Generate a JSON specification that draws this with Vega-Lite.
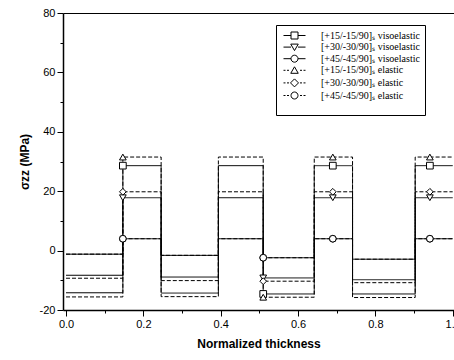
{
  "$schema": "https://vega.github.io/schema/vega-lite/v6.json",
  "width": 391,
  "height": 297,
  "autosize": {"type": "none"},
  "padding": {"left": 63, "top": 13, "right": 0, "bottom": 50},
  "background": "white",
  "config": {
    "view": {"stroke": null},
    "axis": {
      "labelFont": "Liberation Sans",
      "titleFont": "Liberation Sans",
      "labelColor": "black",
      "titleColor": "black",
      "tickColor": "black",
      "domainColor": "black",
      "grid": false
    }
  },
  "datasets": {
    "lines": [
      {"s": "[+15/-15/90]ₛ visoelastic", "x": 0, "y": -14.2},
      {"s": "[+15/-15/90]ₛ visoelastic", "x": 0.147, "y": 28.6},
      {"s": "[+15/-15/90]ₛ visoelastic", "x": 0.246, "y": -14.3},
      {"s": "[+15/-15/90]ₛ visoelastic", "x": 0.394, "y": 28.6},
      {"s": "[+15/-15/90]ₛ visoelastic", "x": 0.51, "y": -14.6},
      {"s": "[+15/-15/90]ₛ visoelastic", "x": 0.642, "y": 28.6},
      {"s": "[+15/-15/90]ₛ visoelastic", "x": 0.741, "y": -14.6},
      {"s": "[+15/-15/90]ₛ visoelastic", "x": 0.903, "y": 28.6},
      {"s": "[+15/-15/90]ₛ visoelastic", "x": 1.0, "y": 28.6},
      {"s": "[+30/-30/90]ₛ visoelastic", "x": 0, "y": -8.3},
      {"s": "[+30/-30/90]ₛ visoelastic", "x": 0.147, "y": 17.8},
      {"s": "[+30/-30/90]ₛ visoelastic", "x": 0.246, "y": -8.9},
      {"s": "[+30/-30/90]ₛ visoelastic", "x": 0.394, "y": 17.8},
      {"s": "[+30/-30/90]ₛ visoelastic", "x": 0.51, "y": -9.2},
      {"s": "[+30/-30/90]ₛ visoelastic", "x": 0.642, "y": 17.8},
      {"s": "[+30/-30/90]ₛ visoelastic", "x": 0.741, "y": -9.8},
      {"s": "[+30/-30/90]ₛ visoelastic", "x": 0.903, "y": 17.8},
      {"s": "[+30/-30/90]ₛ visoelastic", "x": 1.0, "y": 17.8},
      {"s": "[+45/-45/90]ₛ visoelastic", "x": 0, "y": -1.2},
      {"s": "[+45/-45/90]ₛ visoelastic", "x": 0.147, "y": 4.0},
      {"s": "[+45/-45/90]ₛ visoelastic", "x": 0.246, "y": -1.6},
      {"s": "[+45/-45/90]ₛ visoelastic", "x": 0.394, "y": 4.0},
      {"s": "[+45/-45/90]ₛ visoelastic", "x": 0.51, "y": -2.4},
      {"s": "[+45/-45/90]ₛ visoelastic", "x": 0.642, "y": 4.0},
      {"s": "[+45/-45/90]ₛ visoelastic", "x": 0.741, "y": -2.9},
      {"s": "[+45/-45/90]ₛ visoelastic", "x": 0.903, "y": 4.0},
      {"s": "[+45/-45/90]ₛ visoelastic", "x": 1.0, "y": 4.0},
      {"s": "[+15/-15/90]ₛ elastic", "x": 0, "y": -15.6},
      {"s": "[+15/-15/90]ₛ elastic", "x": 0.147, "y": 31.5},
      {"s": "[+15/-15/90]ₛ elastic", "x": 0.246, "y": -15.5},
      {"s": "[+15/-15/90]ₛ elastic", "x": 0.394, "y": 31.5},
      {"s": "[+15/-15/90]ₛ elastic", "x": 0.51, "y": -15.7},
      {"s": "[+15/-15/90]ₛ elastic", "x": 0.642, "y": 31.5},
      {"s": "[+15/-15/90]ₛ elastic", "x": 0.741, "y": -15.8},
      {"s": "[+15/-15/90]ₛ elastic", "x": 0.903, "y": 31.5},
      {"s": "[+15/-15/90]ₛ elastic", "x": 1.0, "y": 31.5},
      {"s": "[+30/-30/90]ₛ elastic", "x": 0, "y": -9.3},
      {"s": "[+30/-30/90]ₛ elastic", "x": 0.147, "y": 19.8},
      {"s": "[+30/-30/90]ₛ elastic", "x": 0.246, "y": -10.1},
      {"s": "[+30/-30/90]ₛ elastic", "x": 0.394, "y": 19.8},
      {"s": "[+30/-30/90]ₛ elastic", "x": 0.51, "y": -10.3},
      {"s": "[+30/-30/90]ₛ elastic", "x": 0.642, "y": 19.8},
      {"s": "[+30/-30/90]ₛ elastic", "x": 0.741, "y": -10.8},
      {"s": "[+30/-30/90]ₛ elastic", "x": 0.903, "y": 19.8},
      {"s": "[+30/-30/90]ₛ elastic", "x": 1.0, "y": 19.8},
      {"s": "[+45/-45/90]ₛ elastic", "x": 0, "y": -1.2},
      {"s": "[+45/-45/90]ₛ elastic", "x": 0.147, "y": 4.0},
      {"s": "[+45/-45/90]ₛ elastic", "x": 0.246, "y": -1.6},
      {"s": "[+45/-45/90]ₛ elastic", "x": 0.394, "y": 4.0},
      {"s": "[+45/-45/90]ₛ elastic", "x": 0.51, "y": -2.4},
      {"s": "[+45/-45/90]ₛ elastic", "x": 0.642, "y": 4.0},
      {"s": "[+45/-45/90]ₛ elastic", "x": 0.741, "y": -2.9},
      {"s": "[+45/-45/90]ₛ elastic", "x": 0.903, "y": 4.0},
      {"s": "[+45/-45/90]ₛ elastic", "x": 1.0, "y": 4.0}
    ],
    "markers": [
      {"s": "[+15/-15/90]ₛ visoelastic", "x": 0.147, "y": 28.6},
      {"s": "[+30/-30/90]ₛ visoelastic", "x": 0.147, "y": 17.8},
      {"s": "[+45/-45/90]ₛ visoelastic", "x": 0.147, "y": 4.0},
      {"s": "[+15/-15/90]ₛ elastic", "x": 0.147, "y": 31.5},
      {"s": "[+30/-30/90]ₛ elastic", "x": 0.147, "y": 19.8},
      {"s": "[+45/-45/90]ₛ elastic", "x": 0.147, "y": 4.0},
      {"s": "[+15/-15/90]ₛ visoelastic", "x": 0.51, "y": -14.6},
      {"s": "[+30/-30/90]ₛ visoelastic", "x": 0.51, "y": -9.2},
      {"s": "[+45/-45/90]ₛ visoelastic", "x": 0.51, "y": -2.4},
      {"s": "[+15/-15/90]ₛ elastic", "x": 0.51, "y": -15.7},
      {"s": "[+30/-30/90]ₛ elastic", "x": 0.51, "y": -10.3},
      {"s": "[+45/-45/90]ₛ elastic", "x": 0.51, "y": -2.4},
      {"s": "[+15/-15/90]ₛ visoelastic", "x": 0.69, "y": 28.6},
      {"s": "[+30/-30/90]ₛ visoelastic", "x": 0.69, "y": 17.8},
      {"s": "[+45/-45/90]ₛ visoelastic", "x": 0.69, "y": 4.0},
      {"s": "[+15/-15/90]ₛ elastic", "x": 0.69, "y": 31.5},
      {"s": "[+30/-30/90]ₛ elastic", "x": 0.69, "y": 19.8},
      {"s": "[+45/-45/90]ₛ elastic", "x": 0.69, "y": 4.0},
      {"s": "[+15/-15/90]ₛ visoelastic", "x": 0.941, "y": 28.6},
      {"s": "[+30/-30/90]ₛ visoelastic", "x": 0.941, "y": 17.8},
      {"s": "[+45/-45/90]ₛ visoelastic", "x": 0.941, "y": 4.0},
      {"s": "[+15/-15/90]ₛ elastic", "x": 0.941, "y": 31.5},
      {"s": "[+30/-30/90]ₛ elastic", "x": 0.941, "y": 19.8},
      {"s": "[+45/-45/90]ₛ elastic", "x": 0.941, "y": 4.0}
    ]
  },
  "layer": [
    {
      "data": {"name": "lines"},
      "mark": {"type": "line", "interpolate": "step-after", "strokeWidth": 1, "color": "black"},
      "encoding": {
        "x": {
          "field": "x", "type": "quantitative",
          "scale": {"domain": [-0.0078, 1.0034], "nice": false, "zero": false},
          "axis": {
            "orient": "bottom",
            "values": [0, 0.1, 0.2, 0.3, 0.4, 0.5, 0.6, 0.7, 0.8, 0.9, 1.0],
            "labelExpr": "round(datum.value*10)%2==0 ? format(datum.value,'.1f') : ''",
            "tickSize": {"condition": {"test": "round(datum.value*10)%2==0", "value": 6}, "value": 3},
            "labelOverlap": false,
            "labelFlush": false,
            "labelFontSize": 11,
            "labelPadding": 2,
            "domainWidth": 1.5,
            "tickWidth": 1,
            "title": "Normalized thickness",
            "titleFontSize": 12,
            "titleFontWeight": "bold",
            "titlePadding": 9
          }
        },
        "y": {
          "field": "y", "type": "quantitative",
          "scale": {"domain": [-20, 80], "nice": false, "zero": false},
          "axis": {
            "orient": "left",
            "values": [-20, -10, 0, 10, 20, 30, 40, 50, 60, 70, 80],
            "labelExpr": "datum.value % 20 == 0 ? '' + datum.value : ''",
            "tickSize": {"condition": {"test": "datum.value % 20 == 0", "value": 6}, "value": 3},
            "labelOverlap": false,
            "labelFlush": false,
            "labelFontSize": 11,
            "labelPadding": 2,
            "domainWidth": 1.5,
            "tickWidth": 1,
            "title": "σzz (MPa)",
            "titleFontSize": 12,
            "titleFontWeight": "bold",
            "titlePadding": 8
          }
        },
        "strokeDash": {
          "field": "s", "type": "nominal",
          "scale": {
            "domain": ["[+15/-15/90]ₛ visoelastic", "[+30/-30/90]ₛ visoelastic", "[+45/-45/90]ₛ visoelastic", "[+15/-15/90]ₛ elastic", "[+30/-30/90]ₛ elastic", "[+45/-45/90]ₛ elastic"],
            "range": [[1, 0], [1, 0], [1, 0], [4, 2], [4, 2], [4, 2]]
          },
          "legend": null
        }
      }
    },
    {
      "data": {"name": "markers"},
      "mark": {"type": "point", "filled": true, "fill": "white", "stroke": "black", "strokeWidth": 1, "size": 45, "opacity": 1},
      "encoding": {
        "x": {"field": "x", "type": "quantitative", "axis": null},
        "y": {"field": "y", "type": "quantitative", "axis": null},
        "shape": {
          "field": "s", "type": "nominal",
          "scale": {
            "domain": ["[+15/-15/90]ₛ visoelastic", "[+30/-30/90]ₛ visoelastic", "[+45/-45/90]ₛ visoelastic", "[+15/-15/90]ₛ elastic", "[+30/-30/90]ₛ elastic", "[+45/-45/90]ₛ elastic"],
            "range": ["square", "triangle-down", "circle", "triangle-up", "diamond", "circle"]
          },
          "legend": null
        }
      }
    },
    {
      "data": {"name": "markers"},
      "transform": [{"filter": "false"}],
      "mark": {"type": "point", "filled": false, "color": "black", "strokeWidth": 1},
      "encoding": {
        "x": {
          "field": "x", "type": "quantitative",
          "axis": {"orient": "top", "ticks": false, "labels": false, "domain": true, "domainWidth": 1, "title": null}
        },
        "y": {"field": "y", "type": "quantitative", "axis": null},
        "shape": {
          "field": "s", "type": "nominal",
          "scale": {
            "domain": ["[+15/-15/90]ₛ visoelastic", "[+30/-30/90]ₛ visoelastic", "[+45/-45/90]ₛ visoelastic", "[+15/-15/90]ₛ elastic", "[+30/-30/90]ₛ elastic", "[+45/-45/90]ₛ elastic"],
            "range": [
              "M-0.6,0H0.9M2.3,0H3.8M0.9,-0.7H2.3V0.7H0.9Z",
              "M-0.6,0H0.9M2.3,0H3.8M0.85,-0.6H2.35L1.6,0.7Z",
              "M-0.6,0H0.9M2.3,0H3.8M0.9,0A0.7,0.7 0 1,0 2.3,0A0.7,0.7 0 1,0 0.9,0Z",
              "M-0.6,0H-0.2M0.1,0H0.5M2.7,0H3.1M3.4,0H3.8M0.85,0.6H2.35L1.6,-0.7Z",
              "M-0.6,0H-0.2M0.1,0H0.5M2.7,0H3.1M3.4,0H3.8M1.6,-0.8L2.4,0L1.6,0.8L0.8,0Z",
              "M-0.6,0H-0.2M0.1,0H0.5M2.7,0H3.1M3.4,0H3.8M0.9,0A0.7,0.7 0 1,0 2.3,0A0.7,0.7 0 1,0 0.9,0Z"
            ]
          },
          "legend": {
            "orient": "none",
            "legendX": 213,
            "legendY": 12,
            "title": " ",
            "titleOrient": "bottom",
            "titleFontSize": 9,
            "titlePadding": 0,
            "strokeColor": "black",
            "fillColor": "white",
            "padding": 5,
            "symbolSize": 100,
            "symbolStrokeColor": "black",
            "symbolStrokeWidth": 1,
            "symbolOpacity": 1,
            "labelFont": "Liberation Serif",
            "labelFontSize": 10,
            "labelColor": "black",
            "labelOffset": 29,
            "labelLimit": 0,
            "rowPadding": 0.6
          }
        }
      }
    }
  ],
  "resolve": {
    "scale": {"shape": "independent"},
    "axis": {"x": "independent", "y": "independent"}
  }
}
